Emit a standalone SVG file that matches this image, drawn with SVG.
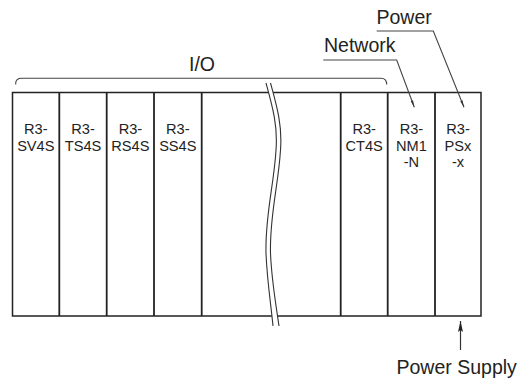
<svg xmlns="http://www.w3.org/2000/svg" width="528" height="379" viewBox="0 0 528 379">
<defs>
<style>
.frame{fill:#fff;stroke:#222;stroke-width:1.5}
.div{stroke:#222;stroke-width:1.8}
.lead{fill:none;stroke:#444;stroke-width:1.1}
.big{font-family:"Liberation Sans",Arial,sans-serif;font-size:19.5px;fill:#222}
.mod{font-family:"Liberation Sans",Arial,sans-serif;font-size:14.6px;fill:#222;text-anchor:middle}
.wave{fill:none;stroke:#333;stroke-width:1.1}
</style>
<marker id="tip" markerWidth="8" markerHeight="6" refX="7" refY="3" orient="auto" markerUnits="userSpaceOnUse">
<path d="M0,1.8 L7,3 L0,4.2 Z" fill="#333"/>
</marker>
<marker id="arr" markerWidth="12" markerHeight="8" refX="11" refY="4" orient="auto" markerUnits="userSpaceOnUse">
<path d="M0,1.5 L11,4 L0,6.5 L2,4 Z" fill="#222"/>
</marker>
</defs>
<rect width="528" height="379" fill="#fff"/>

<g id="rack">
<rect class="frame" x="12.5" y="92.5" width="468.5" height="223.5"/>
</g>

<g id="connectors">
<path class="lead" d="M15.7,84.5 L15.7,83.5 Q15.7,78.3 21.7,78.3 L381,78.3 Q386.7,78.3 386.7,84.5"/>
<path class="lead" d="M323.3,60 L396.7,60 L414.3,107.3" marker-end="url(#tip)"/>
<path class="lead" d="M376.7,31 L433.3,31 L464,107.3" marker-end="url(#tip)"/>
<line x1="460.5" y1="350" x2="460.5" y2="321" stroke="#333" stroke-width="1.2" marker-end="url(#arr)"/>
</g>

<g id="mod-sv4s"><line class="div" x1="59.3" y1="92.5" x2="59.3" y2="316"/><text class="mod" x="35.8" y="134">R3-</text><text class="mod" x="35.8" y="150.5">SV4S</text></g>
<g id="mod-ts4s"><line class="div" x1="106.7" y1="92.5" x2="106.7" y2="316"/><text class="mod" x="83" y="134">R3-</text><text class="mod" x="83" y="150.5">TS4S</text></g>
<g id="mod-rs4s"><line class="div" x1="154" y1="92.5" x2="154" y2="316"/><text class="mod" x="130.4" y="134">R3-</text><text class="mod" x="130.4" y="150.5">RS4S</text></g>
<g id="mod-ss4s"><line class="div" x1="201.7" y1="92.5" x2="201.7" y2="316"/><text class="mod" x="177.8" y="134">R3-</text><text class="mod" x="177.8" y="150.5">SS4S</text></g>
<g id="mod-gap"><line class="div" x1="340.7" y1="92.5" x2="340.7" y2="316"/></g>
<g id="mod-ct4s"><line class="div" x1="387.7" y1="92.5" x2="387.7" y2="316"/><text class="mod" x="364.2" y="134">R3-</text><text class="mod" x="364.2" y="150.5">CT4S</text></g>
<g id="mod-nm1"><line class="div" x1="435" y1="92.5" x2="435" y2="316"/><text class="mod" x="411.4" y="134">R3-</text><text class="mod" x="411.4" y="150.5">NM1</text><text class="mod" x="411.4" y="167">-N</text></g>
<g id="mod-psx"><text class="mod" x="458" y="134">R3-</text><text class="mod" x="458" y="150.5">PSx</text><text class="mod" x="458" y="167">-x</text></g>

<g id="break">
<path fill="#fff" stroke="none" d="M266,83 C272,105 278,125 276,150 C274,185 265,215 266,253 C267,280 271,305 273,326 L279,326 C276,305 271.5,280 270.5,253 C269.5,215 278.5,185 280.5,150 C282.5,125 276.5,105 270.5,83 Z"/>
<path class="wave" d="M266,83 C272,105 278,125 276,150 C274,185 265,215 266,253 C267,280 271,305 273,326"/>
<path class="wave" d="M270.5,83 C276.5,105 282.5,125 280.5,150 C278.5,185 269.5,215 270.5,253 C271.5,280 276,305 279,326"/>
</g>

<g id="labels">
<text class="big" x="202" y="71" text-anchor="middle">I/O</text>
<text class="big" x="324" y="52">Network</text>
<text class="big" x="376.5" y="24">Power</text>
<text class="big" x="396.5" y="374">Power Supply</text>
</g>
</svg>
